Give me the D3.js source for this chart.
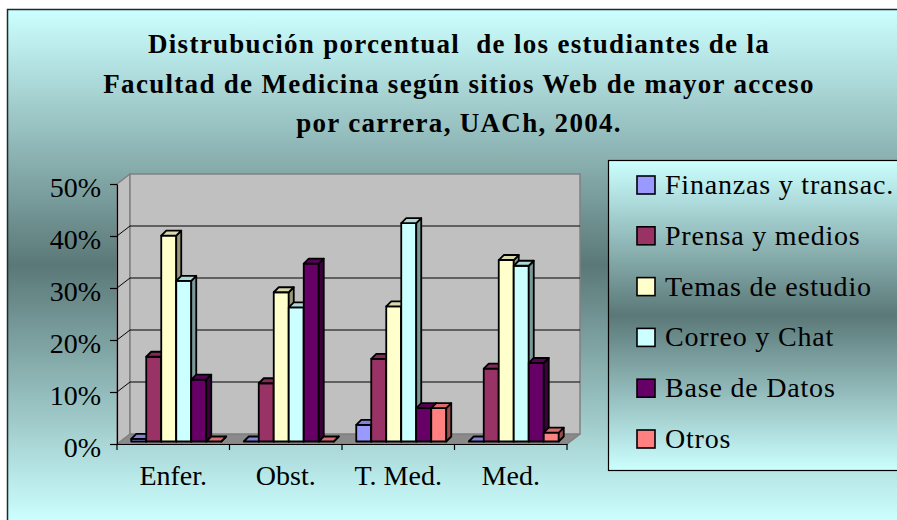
<!DOCTYPE html>
<html>
<head>
<meta charset="utf-8">
<script src="https://d3js.org/d3.v7.min.js"></script>
<style>
  body { margin: 0; background: #ffffff; }
  text { font-family: "Liberation Serif", "Times New Roman", serif; fill: #000; }
</style>
</head>
<body>
<div id="chart"></div>
<script>
// Data
var categories = ["Enfer.", "Obst.", "T. Med.", "Med."];
var seriesNames = ["Finanzas y transac.", "Prensa y medios", "Temas de estudio", "Correo y Chat", "Base de Datos", "Otros"];
var finanzas = [0.5, 0, 3.2, 0];
var prensa = [16.3, 11.2, 15.9, 14.0];
var temas = [39.6, 28.7, 26.0, 34.9];
var correo = [30.9, 25.8, 42.0, 33.8];
var baseDatos = [11.9, 34.2, 6.4, 15.1];
var otros = [0, 0, 6.4, 1.7];
var seriesColors = ["#9999ff", "#993366", "#ffffcc", "#ccffff", "#660066", "#ff8080"];
var yTicks = [0, 10, 20, 30, 40, 50];
var titleLines = [
  "Distrubución porcentual  de los estudiantes de la",
  "Facultad de Medicina según sitios Web de mayor acceso",
  "por carrera, UACh, 2004."
];

var seriesValues = [finanzas, prensa, temas, correo, baseDatos, otros];

var width = 897, height = 520;

var svg = d3.select("#chart").append("svg")
  .attr("width", width)
  .attr("height", height);

// gradients: light cyan at edges, dark teal in the middle
var defs = svg.append("defs");
function addGradient(id) {
  var g = defs.append("linearGradient")
    .attr("id", id)
    .attr("x1", 0).attr("y1", 0).attr("x2", 0).attr("y2", 1);
  g.append("stop").attr("offset", "0%").attr("stop-color", "#ccffff");
  g.append("stop").attr("offset", "50%").attr("stop-color", "#5b7878");
  g.append("stop").attr("offset", "100%").attr("stop-color", "#ccffff");
}
addGradient("bgGrad");
addGradient("legGrad");

// outer chart area
svg.append("rect")
  .attr("x", 7.5).attr("y", 9.5)
  .attr("width", 900).attr("height", 512)
  .attr("fill", "url(#bgGrad)")
  .attr("stroke", "#1c2a2a")
  .attr("stroke-width", 1.5);

// title
svg.selectAll(".title")
  .data(titleLines)
  .enter().append("text")
  .attr("class", "title")
  .attr("x", 459)
  .attr("y", function (d, i) { return 53 + i * 39.5; })
  .attr("text-anchor", "middle")
  .style("white-space", "pre")
  .style("font-size", "27px")
  .style("font-weight", "bold")
  .style("letter-spacing", "1.3px")
  .text(function (d) { return d; });

// plot geometry (front face of the 3D box)
var plotLeft = 117, plotRight = 567, plotBottom = 444, plotTop = 184;
var depth = [13, -10];          // offset of back wall
var barFront = [3, -2.5];       // offset of bar front faces
var barDepth = [5, -5];         // bar thickness in projection

var y = d3.scaleLinear().domain([0, 50]).range([plotBottom, plotTop]);
var x = d3.scaleBand().domain(categories).range([plotLeft, plotRight]);
var xInner = d3.scaleBand().domain(seriesNames)
  .range([x.bandwidth() * 0.1, x.bandwidth() * 0.9]);

var g = svg.append("g");

// floor
g.append("polygon")
  .attr("points", [[plotLeft, plotBottom], [plotLeft + depth[0], plotBottom + depth[1]],
    [plotRight + depth[0], plotBottom + depth[1]], [plotRight, plotBottom]].join(" "))
  .attr("fill", "#8a8a8a")
  .attr("stroke", "#808080");

// left wall
g.append("polygon")
  .attr("points", [[plotLeft, plotBottom], [plotLeft, plotTop], [plotLeft + depth[0], plotTop + depth[1]],
    [plotLeft + depth[0], plotBottom + depth[1]]].join(" "))
  .attr("fill", "#c0c0c0")
  .attr("stroke", "#808080")
  .attr("stroke-width", 1.5);

// back wall
g.append("rect")
  .attr("x", plotLeft + depth[0])
  .attr("y", plotTop + depth[1])
  .attr("width", plotRight - plotLeft)
  .attr("height", plotBottom - plotTop)
  .attr("fill", "#c0c0c0")
  .attr("stroke", "#808080")
  .attr("stroke-width", 1.5);

// gridlines on back and side wall
var grid = yTicks.filter(function (d) { return d > 0 && d < 50; });
g.selectAll(".grid-back")
  .data(grid)
  .enter().append("line")
  .attr("x1", plotLeft + depth[0]).attr("x2", plotRight + depth[0])
  .attr("y1", function (d) { return y(d) + depth[1]; })
  .attr("y2", function (d) { return y(d) + depth[1]; })
  .attr("stroke", "#000").attr("stroke-width", 1);
g.selectAll(".grid-side")
  .data(grid)
  .enter().append("line")
  .attr("x1", plotLeft).attr("x2", plotLeft + depth[0])
  .attr("y1", function (d) { return y(d); })
  .attr("y2", function (d) { return y(d) + depth[1]; })
  .attr("stroke", "#000").attr("stroke-width", 1);

// bars, drawn left to right so later ones cover side faces
var bars = [];
categories.forEach(function (c, ci) {
  seriesNames.forEach(function (s, si) {
    bars.push({ cat: c, name: s, value: seriesValues[si][ci], color: seriesColors[si] });
  });
});

function shade(c, k) {
  var r = d3.rgb(c);
  return d3.rgb(r.r * k, r.g * k, r.b * k).formatHex();
}

g.selectAll(".bar")
  .data(bars)
  .enter().append("g")
  .attr("class", "bar")
  .each(function (d) {
    var x0 = x(d.cat) + xInner(d.name) + barFront[0];
    var w = xInner.bandwidth();
    var yb = y(0) + barFront[1];
    var yt = y(d.value) + barFront[1];
    var sel = d3.select(this);
    sel.append("rect")
      .attr("x", x0).attr("y", yt)
      .attr("width", w).attr("height", yb - yt)
      .attr("fill", d.color);
    sel.append("polygon")
      .attr("points", [[x0 + w, yt], [x0 + w + barDepth[0], yt + barDepth[1]],
        [x0 + w + barDepth[0], yb + barDepth[1]], [x0 + w, yb]].join(" "))
      .attr("fill", shade(d.color, 0.6));
    sel.append("polygon")
      .attr("points", [[x0, yt], [x0 + barDepth[0], yt + barDepth[1]],
        [x0 + w + barDepth[0], yt + barDepth[1]], [x0 + w, yt]].join(" "))
      .attr("fill", shade(d.color, 0.85));
    sel.selectAll("rect, polygon")
      .attr("stroke", "#000")
      .attr("stroke-width", 1.8)
      .attr("stroke-linejoin", "round");
  });

// floor right edge
g.append("line")
  .attr("x1", plotRight).attr("y1", plotBottom)
  .attr("x2", plotRight + depth[0]).attr("y2", plotBottom + depth[1])
  .attr("stroke", "#808080").attr("stroke-width", 1.5);

// value axis
var yAxis = g.append("g")
  .attr("transform", "translate(" + plotLeft + ",0)")
  .call(d3.axisLeft(y).tickValues(yTicks).tickSize(7).tickSizeOuter(0).tickPadding(9)
    .tickFormat(function (d) { return d + "%"; }));
yAxis.selectAll("path, line").attr("stroke", "#000").attr("stroke-width", 1.2);
yAxis.selectAll("text")
  .attr("dy", "0.45em")
  .style("font-size", "28px")
  .style("font-family", "'Liberation Serif', 'Times New Roman', serif");

// category axis
var xAxis = g.append("g")
  .attr("transform", "translate(0," + plotBottom + ")")
  .call(d3.axisBottom(x).tickSize(0).tickSizeOuter(0).tickPadding(21));
xAxis.selectAll("path").attr("stroke", "#000").attr("stroke-width", 1.2);
xAxis.selectAll("text")
  .style("font-size", "28px")
  .style("font-family", "'Liberation Serif', 'Times New Roman', serif");
g.selectAll(".xtick")
  .data(d3.range(categories.length + 1))
  .enter().append("line")
  .attr("x1", function (i) { return plotLeft + i * x.step(); })
  .attr("x2", function (i) { return plotLeft + i * x.step(); })
  .attr("y1", plotBottom).attr("y2", plotBottom + 6)
  .attr("stroke", "#000").attr("stroke-width", 1.2);

// legend
var legend = svg.append("g");
legend.append("rect")
  .attr("x", 608.5).attr("y", 160.5)
  .attr("width", 300).attr("height", 310)
  .attr("fill", "url(#legGrad)")
  .attr("stroke", "#000")
  .attr("stroke-width", 1.2);

var items = legend.selectAll(".item")
  .data(seriesNames)
  .enter().append("g")
  .attr("class", "item")
  .attr("transform", function (d, i) { return "translate(637," + (185 + i * 50.8) + ")"; });
items.append("rect")
  .attr("x", 0).attr("y", -9)
  .attr("width", 18).attr("height", 18)
  .attr("fill", function (d, i) { return seriesColors[i]; })
  .attr("stroke", "#000")
  .attr("stroke-width", 1.6);
items.append("text")
  .attr("x", 28)
  .attr("y", 9)
  .style("font-size", "28px")
  .style("letter-spacing", "0.8px")
  .text(function (d) { return d; });
</script>
</body>
</html>
